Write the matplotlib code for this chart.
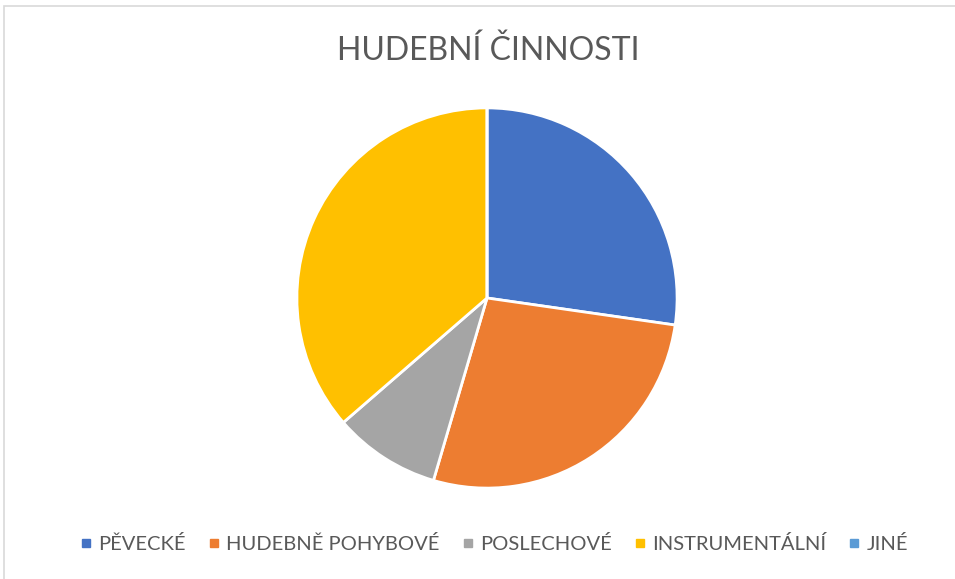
import matplotlib.pyplot as plt
from matplotlib.lines import Line2D
from matplotlib.patches import Rectangle

# data
labels = ['PĚVECKÉ', 'HUDEBNĚ POHYBOVÉ', 'POSLECHOVÉ', 'INSTRUMENTÁLNÍ', 'JINÉ']
values = [3, 3, 1, 4, 0]
colors = ['#4472C4', '#ED7D31', '#A5A5A5', '#FFC000', '#5B9BD5']

plt.rcParams['font.family'] = ['Lato', 'DejaVu Sans']
text_color = '#595959'

W, H = 955, 579
fig = plt.figure(figsize=(W / 100, H / 100), dpi=100)

# light chart border
fig.patches.append(Rectangle((4 / W, -0.1), 1.2, 1 - 6 / H + 0.1, transform=fig.transFigure,
                             fill=False, edgecolor='#D9D9D9', linewidth=1.2))

cx, cy, r = 487, 298, 192
ax = fig.add_axes([(cx - r) / W, (H - cy - r) / H, 2 * r / W, 2 * r / H])
ax.pie(values, colors=colors, startangle=90, counterclock=False, radius=1,
       wedgeprops=dict(edgecolor='white', linewidth=2))
ax.set_xlim(-1.01, 1.01)
ax.set_ylim(-1.01, 1.01)
ax.set_aspect('equal')
ax.axis('off')

fig.text(488 / W, 1 - 51 / H, 'HUDEBNÍ ČINNOSTI', ha='center', va='center',
         fontsize=23, color=text_color)

handles = [Line2D([], [], marker='s', linestyle='', markersize=6, color=c) for c in colors]
leg = fig.legend(handles, labels, loc='center', bbox_to_anchor=(492 / W, 1 - 544 / H),
                 ncol=5, frameon=False, fontsize=14.5, handletextpad=0.1,
                 columnspacing=0.9, handlelength=1.0)
for t in leg.get_texts():
    t.set_color(text_color)

fig.savefig('out.png', dpi=100)
